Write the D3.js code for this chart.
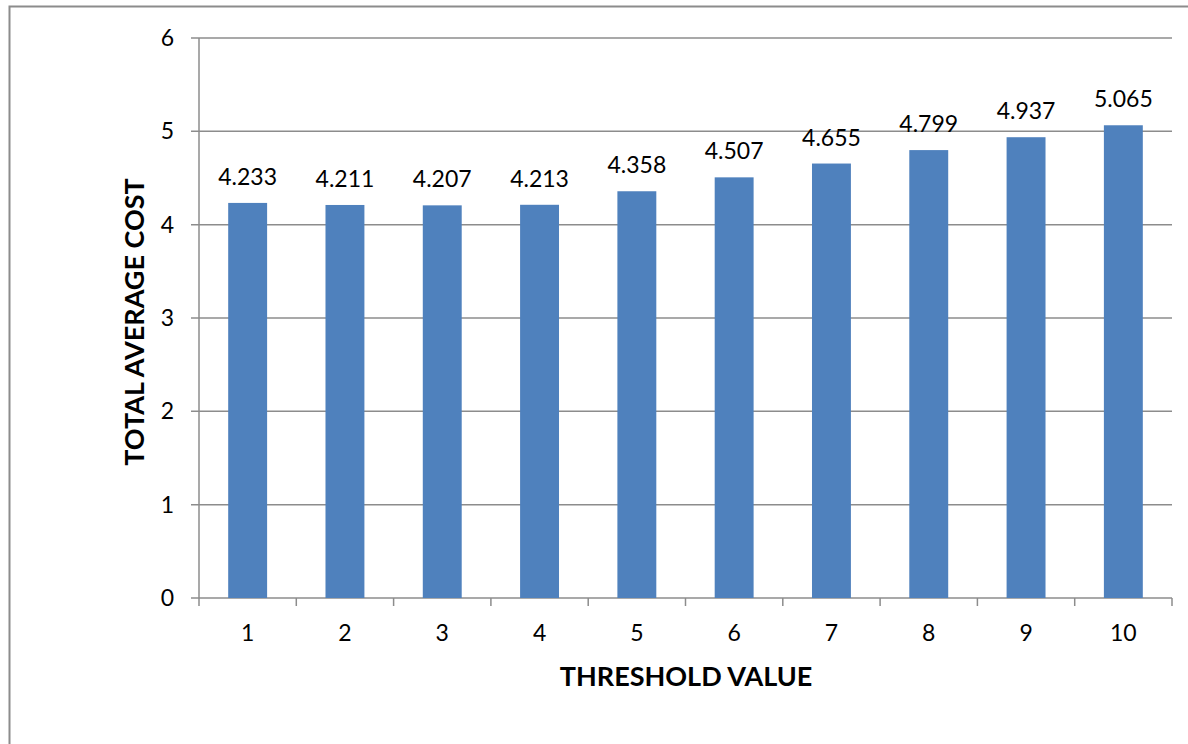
<!DOCTYPE html>
<html>
<head>
<meta charset="utf-8">
<script src="https://cdn.jsdelivr.net/npm/d3@7"></script>
<style>
  body { margin: 0; background: #fff; }
  svg text { font-family: Lato, "Open Sans", sans-serif; fill: #000; }
</style>
</head>
<body>
<svg id="chart" width="1188" height="744"></svg>
<script>
// chart data
const thresholds = ['1', '2', '3', '4', '5', '6', '7', '8', '9', '10'];
const avgCost = [4.233, 4.211, 4.207, 4.213, 4.358, 4.507, 4.655, 4.799, 4.937, 5.065];
const yTicks = [0, 1, 2, 3, 4, 5, 6];

const svg = d3.select('#chart');
const plotLeft = 199, plotRight = 1172, plotTop = 38, plotBottom = 598;

// outer frame (runs off the right and bottom edges)
svg.append('rect')
    .attr('x', 9.5).attr('y', 6.5)
    .attr('width', 1200).attr('height', 800)
    .attr('fill', 'none')
    .attr('stroke', '#8c8c8c')
    .attr('stroke-width', 2);

const x = d3.scaleBand().domain(thresholds).range([plotLeft, plotRight]).paddingInner(0.6).paddingOuter(0.3);
const xOuter = d3.scaleBand().domain(thresholds).range([plotLeft, plotRight]);
const y = d3.scaleLinear().domain([0, 6]).range([plotBottom, plotTop]);

// gridlines
svg.append('g')
    .selectAll('line')
    .data(yTicks)
    .enter()
    .append('line')
    .attr('x1', plotLeft - 8).attr('x2', plotRight)
    .attr('y1', d => y(d)).attr('y2', d => y(d))
    .style('stroke', '#8c8c8c')
    .style('stroke-width', 1.5);

// y axis line
svg.append('line')
    .attr('x1', plotLeft).attr('x2', plotLeft)
    .attr('y1', plotTop).attr('y2', plotBottom)
    .style('stroke', '#8c8c8c')
    .style('stroke-width', 1.5);

// x axis tick marks at category boundaries
const bounds = thresholds.map(t => xOuter(t)).concat([plotRight]);
svg.append('g')
    .selectAll('line')
    .data(bounds)
    .enter()
    .append('line')
    .attr('x1', d => d).attr('x2', d => d)
    .attr('y1', plotBottom).attr('y2', plotBottom + 8)
    .style('stroke', '#8c8c8c')
    .style('stroke-width', 1.5);

// bars
svg.append('g')
    .selectAll('rect')
    .data(avgCost)
    .enter()
    .append('rect')
    .attr('x', (d, i) => x(thresholds[i]))
    .attr('width', x.bandwidth())
    .attr('y', d => y(d))
    .attr('height', d => plotBottom - y(d))
    .style('fill', '#4f81bd');

// value labels
svg.append('g')
    .selectAll('text')
    .data(avgCost)
    .enter()
    .append('text')
    .attr('x', (d, i) => x(thresholds[i]) + x.bandwidth() / 2)
    .attr('y', d => y(d) - 18)
    .attr('text-anchor', 'middle')
    .style('font-size', '23px')
    .text(d => d3.format('.3f')(d));

// y tick labels
svg.append('g')
    .selectAll('text')
    .data(yTicks)
    .enter()
    .append('text')
    .attr('x', 174)
    .attr('y', d => y(d))
    .attr('dy', '0.35em')
    .attr('text-anchor', 'end')
    .style('font-size', '23px')
    .text(d => d);

// x tick labels
svg.append('g')
    .selectAll('text')
    .data(thresholds)
    .enter()
    .append('text')
    .attr('x', d => xOuter(d) + xOuter.bandwidth() / 2)
    .attr('y', 633)
    .attr('dy', '0.35em')
    .attr('text-anchor', 'middle')
    .style('font-size', '23px')
    .text(d => d);

// axis titles
svg.append('text')
    .attr('x', 686).attr('y', 677)
    .attr('dy', '0.35em')
    .attr('text-anchor', 'middle')
    .style('font-size', '27px')
    .style('font-weight', 'bold')
    .text('THRESHOLD VALUE');

svg.append('text')
    .attr('transform', 'translate(135,322) rotate(-90)')
    .attr('dy', '0.35em')
    .attr('text-anchor', 'middle')
    .style('font-size', '27px')
    .style('font-weight', 'bold')
    .text('TOTAL AVERAGE COST');
</script>
</body>
</html>
